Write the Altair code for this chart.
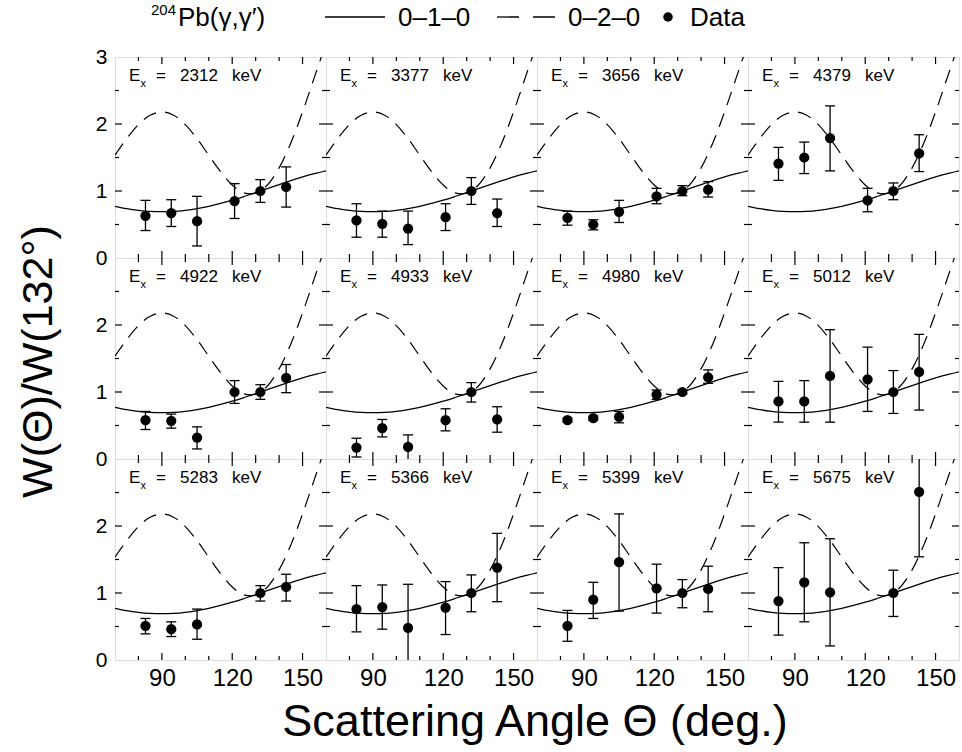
import altair as alt
import pandas as pd

# ---------------- data ----------------
ENERGIES = [2312, 3377, 3656, 4379, 4922, 4933, 4980, 5012, 5283, 5366, 5399, 5675]

ANG6 = [83, 94, 105, 121, 132, 143]
ANG5 = [83, 94, 105, 132, 143]
PANEL_ANGLES = [ANG6, ANG6, ANG6, ANG6, ANG6, ANG6, ANG6, ANG6, ANG5, ANG6, ANG6, ANG5]

PANEL_W = [
    [0.63, 0.67, 0.55, 0.85, 1.00, 1.06],
    [0.56, 0.51, 0.44, 0.61, 1.00, 0.67],
    [0.60, 0.50, 0.69, 0.92, 1.00, 1.02],
    [1.41, 1.50, 1.79, 0.86, 1.00, 1.56],
    [0.58, 0.57, 0.32, 1.00, 1.00, 1.21],
    [0.17, 0.46, 0.18, 0.58, 1.00, 0.59],
    [0.58, 0.61, 0.63, 0.96, 1.00, 1.22],
    [0.86, 0.86, 1.24, 1.19, 1.00, 1.30],
    [0.51, 0.46, 0.53, 1.00, 1.09],
    [0.76, 0.79, 0.48, 0.78, 1.00, 1.38],
    [0.51, 0.90, 1.46, 1.07, 1.00, 1.06],
    [0.88, 1.16, 1.01, 1.00, 2.51],
]
PANEL_LO = [
    [0.41, 0.47, 0.18, 0.59, 0.83, 0.76],
    [0.31, 0.31, 0.20, 0.41, 0.80, 0.47],
    [0.49, 0.42, 0.53, 0.81, 0.93, 0.91],
    [1.16, 1.26, 1.30, 0.69, 0.87, 1.29],
    [0.44, 0.46, 0.15, 0.83, 0.89, 0.99],
    [0.03, 0.33, -0.10, 0.42, 0.85, 0.40],
    [0.55, 0.58, 0.54, 0.89, 0.97, 1.13],
    [0.55, 0.55, 0.55, 0.71, 0.68, 0.73],
    [0.39, 0.35, 0.31, 0.88, 0.88],
    [0.42, 0.46, -0.20, 0.38, 0.72, 0.87],
    [0.28, 0.62, 0.73, 0.70, 0.78, 0.72],
    [0.37, 0.57, 0.21, 0.65, 1.54],
]
PANEL_HI = [
    [0.86, 0.87, 0.92, 1.11, 1.17, 1.36],
    [0.81, 0.70, 0.70, 0.81, 1.20, 0.88],
    [0.70, 0.57, 0.86, 1.04, 1.08, 1.14],
    [1.65, 1.73, 2.27, 1.04, 1.12, 1.84],
    [0.71, 0.67, 0.48, 1.17, 1.11, 1.41],
    [0.31, 0.59, 0.36, 0.75, 1.14, 0.78],
    [0.61, 0.64, 0.71, 1.03, 1.03, 1.33],
    [1.16, 1.17, 1.93, 1.67, 1.32, 1.86],
    [0.62, 0.57, 0.76, 1.11, 1.28],
    [1.11, 1.12, 1.13, 1.17, 1.27, 1.89],
    [0.74, 1.16, 2.18, 1.43, 1.20, 1.40],
    [1.38, 1.75, 1.81, 1.34, 3.50],
]

CURVE_ANGLES = [70, 75, 80, 85, 90, 95, 100, 105, 110, 115, 120, 125, 130, 135, 140, 145, 150, 155, 160]
SOLID_010 = [0.772, 0.737, 0.712, 0.696, 0.691, 0.696, 0.712, 0.737, 0.772, 0.814, 0.863, 0.918,
             0.976, 1.036, 1.096, 1.154, 1.209, 1.258, 1.301]
DASHED_020 = [1.535, 1.781, 1.991, 2.131, 2.180, 2.131, 1.991, 1.781, 1.534, 1.290, 1.090, 0.972,
              0.967, 1.090, 1.345, 1.718, 2.180, 2.692, 3.205]

X_LABELS = [90, 120, 150]
X_MINOR = [80, 100, 110, 130, 140]
Y_MAJOR = [1, 2]
Y_MINOR = [0.5, 1.5, 2.5]

LEGEND_LABELS = ["0\u20131\u20130", "0\u20132\u20130", "Data"]
Y_TITLE = "W(\u0398)/W(132\u00b0)"
X_TITLE = "Scattering Angle \u0398 (deg.)"

# ---------------- tables ----------------
curve_df = pd.DataFrame({"angle": CURVE_ANGLES, "w010": SOLID_010, "w020": DASHED_020})

vt_rows = []
for a in X_LABELS:
    for w in (0, 3):
        vt_rows.append({"angle": a, "w": w, "len": 14})
for a in X_MINOR:
    for w in (0, 3):
        vt_rows.append({"angle": a, "w": w, "len": 8})
vtick_df = pd.DataFrame(vt_rows)

ht_rows = []
for v in Y_MAJOR:
    for a in (70, 160):
        ht_rows.append({"angle": a, "w": v, "len": 14})
for v in Y_MINOR:
    for a in (70, 160):
        ht_rows.append({"angle": a, "w": v, "len": 8})
htick_df = pd.DataFrame(ht_rows)

REG = "'Liberation Sans', Arial, sans-serif"

X_SCALE = alt.Scale(domain=[70, 160], nice=False, zero=False)
Y_SCALE = alt.Scale(domain=[0, 3], nice=False, zero=False)

PW, PH = 211, 201


def panel(i):
    r, c = divmod(i, 4)
    if r == 2:
        xaxis = alt.Axis(values=X_LABELS, ticks=False, domain=False, grid=False,
                         labelFont=REG, labelFontSize=24, labelPadding=6,
                         labelColor="black", title=None, labelFlush=False)
    else:
        xaxis = None
    if c == 0:
        yaxis = alt.Axis(values=[0, 1, 2, 3] if r == 0 else [0, 1, 2], ticks=False,
                         domain=False, grid=False, labelFont=REG, labelFontSize=21,
                         labelPadding=8, labelColor="black", title=None,
                         labelFlush=False, labelOverlap=False)
    else:
        yaxis = None

    def X(f):
        return alt.X(f"{f}:Q", scale=X_SCALE, axis=xaxis)

    def Y(f):
        return alt.Y(f"{f}:Q", scale=Y_SCALE, axis=yaxis)

    pts = pd.DataFrame({"angle": PANEL_ANGLES[i], "w": PANEL_W[i],
                        "lo": PANEL_LO[i], "hi": PANEL_HI[i]})

    dashed = alt.Chart(curve_df).mark_line(
        color="black", strokeWidth=1.2, strokeDash=[14, 9], interpolate="catmull-rom", clip=True
    ).encode(x=X("angle"), y=Y("w020"))
    solid = alt.Chart(curve_df).mark_line(
        color="black", strokeWidth=1.3, interpolate="catmull-rom", clip=True
    ).encode(x=X("angle"), y=Y("w010"))
    err = alt.Chart(pts).mark_rule(color="black", strokeWidth=1.3, clip=True).encode(
        x=X("angle"), y=Y("lo"), y2="hi")
    cap_lo = alt.Chart(pts).mark_tick(color="black", orient="horizontal", size=10,
                                      thickness=1.3, opacity=1, clip=True).encode(
        x=X("angle"), y=Y("lo"))
    cap_hi = alt.Chart(pts).mark_tick(color="black", orient="horizontal", size=10,
                                      thickness=1.3, opacity=1, clip=True).encode(
        x=X("angle"), y=Y("hi"))
    dots = alt.Chart(pts).mark_circle(color="black", size=105, opacity=1, clip=True).encode(
        x=X("angle"), y=Y("w"))
    vt = alt.Chart(vtick_df).mark_tick(color="black", orient="vertical", thickness=1.2,
                                       opacity=1, clip=True).encode(
        x=X("angle"), y=Y("w"), size=alt.Size("len:Q", scale=None))
    ht = alt.Chart(htick_df).mark_tick(color="black", orient="horizontal", thickness=1.2,
                                       opacity=1, clip=True).encode(
        x=X("angle"), y=Y("w"), size=alt.Size("len:Q", scale=None))

    lab_df = pd.DataFrame({"e": ["E"], "s": ["x"],
                           "t": ["=\u00a0\u00a0\u00a0" + str(ENERGIES[i]) + "\u00a0\u00a0\u00a0keV"]})
    lab_e = alt.Chart(lab_df).mark_text(align="left", baseline="alphabetic", font=REG,
                                        fontSize=17, color="black").encode(
        text="e:N", x=alt.value(14), y=alt.value(24))
    lab_s = alt.Chart(lab_df).mark_text(align="left", baseline="alphabetic", font=REG,
                                        fontSize=11, color="black").encode(
        text="s:N", x=alt.value(25.5), y=alt.value(30))
    lab_t = alt.Chart(lab_df).mark_text(align="left", baseline="alphabetic", font=REG,
                                        fontSize=17, color="black").encode(
        text="t:N", x=alt.value(41), y=alt.value(24))

    layers = [dashed, solid, err, cap_lo, cap_hi, dots, vt, ht, lab_e, lab_s, lab_t]

    if i == 4:
        yt = alt.Chart(pd.DataFrame({"t": [Y_TITLE]})).mark_text(
            align="center", baseline="middle", angle=270, font=REG, fontSize=43, color="black"
        ).encode(text="t:N", x=alt.value(-76), y=alt.value(PH / 2 + 3))
        layers.append(yt)
    if i == 9:
        xt = alt.Chart(pd.DataFrame({"t": [X_TITLE]})).mark_text(
            align="center", baseline="alphabetic", font=REG, fontSize=45, color="black"
        ).encode(text="t:N", x=alt.value(PW - 2), y=alt.value(277))
        layers.append(xt)
    if i == 0:
        ldf = pd.DataFrame({"sup": ["204"], "pb": ["Pb(\u03b3,\u03b3\u2032)"],
                            "l1": [LEGEND_LABELS[0]], "l2": [LEGEND_LABELS[1]],
                            "l3": [LEGEND_LABELS[2]]})
        base = alt.Chart(ldf)
        ly = -40
        tb = -31
        layers += [
            base.mark_text(align="left", baseline="alphabetic", font=REG, fontSize=15,
                           color="black").encode(text="sup:N", x=alt.value(36), y=alt.value(-42)),
            base.mark_text(align="left", baseline="alphabetic", font=REG, fontSize=26,
                           color="black").encode(text="pb:N", x=alt.value(63), y=alt.value(tb)),
            base.mark_rule(color="black", strokeWidth=1.3).encode(
                x=alt.value(210), x2=alt.value(270), y=alt.value(ly)),
            base.mark_text(align="left", baseline="alphabetic", font=REG, fontSize=26,
                           color="black").encode(text="l1:N", x=alt.value(283), y=alt.value(tb)),
            base.mark_rule(color="black", strokeWidth=1.3, strokeDash=[22, 14]).encode(
                x=alt.value(382), x2=alt.value(441), y=alt.value(ly)),
            base.mark_text(align="left", baseline="alphabetic", font=REG, fontSize=26,
                           color="black").encode(text="l2:N", x=alt.value(453), y=alt.value(tb)),
            base.mark_circle(color="black", size=90, opacity=1).encode(
                x=alt.value(553), y=alt.value(ly)),
            base.mark_text(align="left", baseline="alphabetic", font=REG, fontSize=26,
                           color="black").encode(text="l3:N", x=alt.value(575), y=alt.value(tb)),
        ]

    return alt.layer(*layers).properties(width=PW, height=PH)


chart = alt.concat(*[panel(i) for i in range(12)], columns=4, spacing=0).properties(
    bounds="flush",
    padding={"left": 17, "top": 2, "right": 0, "bottom": 0},
).configure_view(stroke="black", strokeWidth=1.5).configure(background="white")

chart.save("out.html", embed_options={"renderer": "svg", "actions": False})
